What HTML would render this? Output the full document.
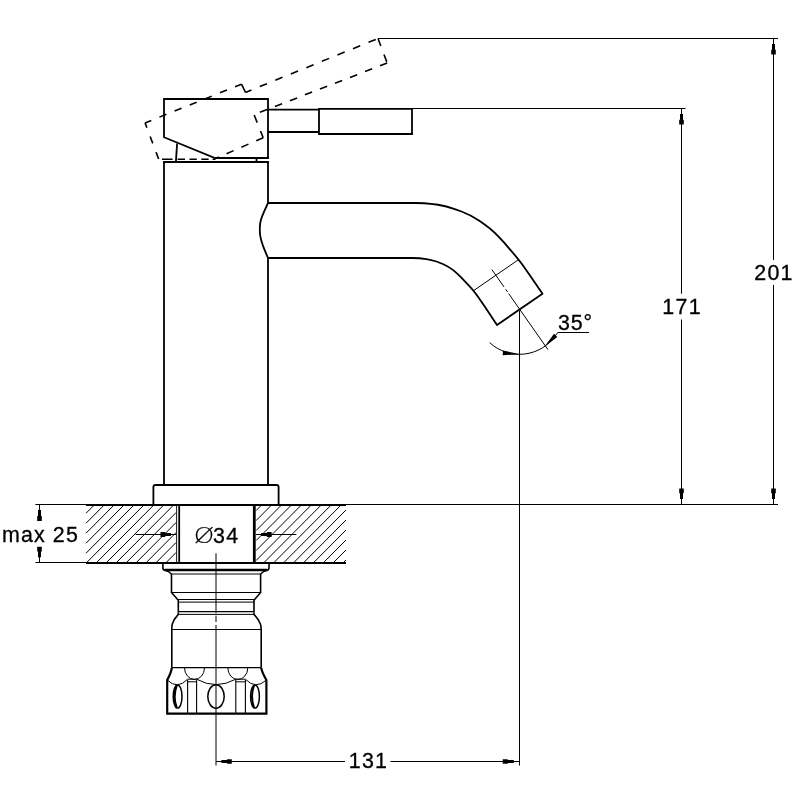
<!DOCTYPE html>
<html lang="en"><head><meta charset="utf-8"><title>Basin mixer dimensional drawing</title>
<style>
html,body{margin:0;padding:0;background:#fff;}
body{width:800px;height:800px;overflow:hidden;}
svg{display:block;will-change:transform;filter:grayscale(1);}
svg text{font-family:"Liberation Sans",sans-serif;fill:#000;}
</style></head><body>
<svg width="800" height="800" viewBox="0 0 800 800">
<rect width="800" height="800" fill="#fff"/>
<g fill="none" stroke="#000" stroke-linecap="butt" stroke-linejoin="miter">
<line x1="94.48" y1="504.75" x2="86.00" y2="513.28" stroke-width="1.0" />
<line x1="104.41" y1="504.75" x2="86.00" y2="523.27" stroke-width="1.0" />
<line x1="114.34" y1="504.75" x2="86.00" y2="533.26" stroke-width="1.0" />
<line x1="124.27" y1="504.75" x2="86.00" y2="543.25" stroke-width="1.0" />
<line x1="134.20" y1="504.75" x2="86.00" y2="553.24" stroke-width="1.0" />
<line x1="144.13" y1="504.75" x2="86.23" y2="563.00" stroke-width="1.0" />
<line x1="154.06" y1="504.75" x2="96.16" y2="563.00" stroke-width="1.0" />
<line x1="163.99" y1="504.75" x2="106.09" y2="563.00" stroke-width="1.0" />
<line x1="173.92" y1="504.75" x2="116.02" y2="563.00" stroke-width="1.0" />
<line x1="176.20" y1="512.44" x2="125.95" y2="563.00" stroke-width="1.0" />
<line x1="176.20" y1="522.43" x2="135.88" y2="563.00" stroke-width="1.0" />
<line x1="176.20" y1="532.42" x2="145.81" y2="563.00" stroke-width="1.0" />
<line x1="176.20" y1="542.41" x2="155.74" y2="563.00" stroke-width="1.0" />
<line x1="176.20" y1="552.40" x2="165.67" y2="563.00" stroke-width="1.0" />
<line x1="176.20" y1="562.39" x2="175.60" y2="563.00" stroke-width="1.0" />
<line x1="261.88" y1="504.75" x2="256.00" y2="510.66" stroke-width="1.0" />
<line x1="271.81" y1="504.75" x2="256.00" y2="520.65" stroke-width="1.0" />
<line x1="281.74" y1="504.75" x2="256.00" y2="530.64" stroke-width="1.0" />
<line x1="291.67" y1="504.75" x2="256.00" y2="540.63" stroke-width="1.0" />
<line x1="301.60" y1="504.75" x2="256.00" y2="550.62" stroke-width="1.0" />
<line x1="311.53" y1="504.75" x2="256.00" y2="560.61" stroke-width="1.0" />
<line x1="321.46" y1="504.75" x2="263.56" y2="563.00" stroke-width="1.0" />
<line x1="331.39" y1="504.75" x2="273.49" y2="563.00" stroke-width="1.0" />
<line x1="341.32" y1="504.75" x2="283.42" y2="563.00" stroke-width="1.0" />
<line x1="346.00" y1="510.03" x2="293.35" y2="563.00" stroke-width="1.0" />
<line x1="346.00" y1="520.02" x2="303.28" y2="563.00" stroke-width="1.0" />
<line x1="346.00" y1="530.01" x2="313.21" y2="563.00" stroke-width="1.0" />
<line x1="346.00" y1="540.00" x2="323.14" y2="563.00" stroke-width="1.0" />
<line x1="346.00" y1="549.99" x2="333.07" y2="563.00" stroke-width="1.0" />
<line x1="346.00" y1="559.98" x2="343.00" y2="563.00" stroke-width="1.0" />
<line x1="378.00" y1="38.50" x2="778.00" y2="38.50" stroke-width="1.0" />
<line x1="412.00" y1="108.50" x2="685.50" y2="108.50" stroke-width="1.0" />
<line x1="35.40" y1="504.50" x2="778.00" y2="504.50" stroke-width="1.0" />
<line x1="35.40" y1="562.50" x2="90.00" y2="562.50" stroke-width="1.0" />
<line x1="773.50" y1="38.50" x2="773.50" y2="260.00" stroke-width="1.0" />
<line x1="773.50" y1="285.00" x2="773.50" y2="504.50" stroke-width="1.0" />
<polygon points="774.00,38.50 774.00,43.94 775.00,43.94 775.00,49.70 775.80,49.70 775.80,54.50 771.20,54.50 771.20,49.70 772.00,49.70 772.00,43.94 773.00,43.94 773.00,38.50" fill="#000" stroke="none"/>
<polygon points="773.00,504.50 773.00,499.06 772.00,499.06 772.00,493.30 771.20,493.30 771.20,488.50 775.80,488.50 775.80,493.30 775.00,493.30 775.00,499.06 774.00,499.06 774.00,504.50" fill="#000" stroke="none"/>
<line x1="681.50" y1="108.50" x2="681.50" y2="293.75" stroke-width="1.0" />
<line x1="681.50" y1="319.50" x2="681.50" y2="504.50" stroke-width="1.0" />
<polygon points="682.00,108.50 682.00,113.94 683.00,113.94 683.00,119.70 683.80,119.70 683.80,124.50 679.20,124.50 679.20,119.70 680.00,119.70 680.00,113.94 681.00,113.94 681.00,108.50" fill="#000" stroke="none"/>
<polygon points="681.00,504.50 681.00,499.06 680.00,499.06 680.00,493.30 679.20,493.30 679.20,488.50 683.80,488.50 683.80,493.30 683.00,493.30 683.00,499.06 682.00,499.06 682.00,504.50" fill="#000" stroke="none"/>
<line x1="39.50" y1="504.50" x2="39.50" y2="521.00" stroke-width="1.0" />
<line x1="39.50" y1="547.00" x2="39.50" y2="562.50" stroke-width="1.0" />
<polygon points="40.00,504.50 40.00,510.11 41.00,510.11 41.00,516.05 41.80,516.05 41.80,521.00 37.20,521.00 37.20,516.05 38.00,516.05 38.00,510.11 39.00,510.11 39.00,504.50" fill="#000" stroke="none"/>
<polygon points="39.00,562.50 39.00,557.13 38.00,557.13 38.00,551.44 37.20,551.44 37.20,546.70 41.80,546.70 41.80,551.44 41.00,551.44 41.00,557.13 40.00,557.13 40.00,562.50" fill="#000" stroke="none"/>
<line x1="216.00" y1="761.50" x2="345.00" y2="761.50" stroke-width="1.0" />
<line x1="390.50" y1="761.50" x2="519.50" y2="761.50" stroke-width="1.0" />
<polygon points="216.00,761.00 221.37,761.00 221.37,760.00 227.06,760.00 227.06,759.20 231.80,759.20 231.80,763.80 227.06,763.80 227.06,763.00 221.37,763.00 221.37,762.00 216.00,762.00" fill="#000" stroke="none"/>
<polygon points="519.50,762.00 513.79,762.00 513.79,763.00 507.74,763.00 507.74,763.80 502.70,763.80 502.70,759.20 507.74,759.20 507.74,760.00 513.79,760.00 513.79,761.00 519.50,761.00" fill="#000" stroke="none"/>
<line x1="519.50" y1="310.50" x2="519.50" y2="765.50" stroke-width="1.0" />
<line x1="216.00" y1="553.25" x2="216.00" y2="613.25" stroke-width="1.0" />
<line x1="216.00" y1="615.50" x2="216.00" y2="622.00" stroke-width="1.0" />
<line x1="216.00" y1="625.00" x2="216.00" y2="765.50" stroke-width="1.0" />
<line x1="135.60" y1="534.50" x2="176.00" y2="534.50" stroke-width="1.0" />
<polygon points="176.30,535.00 170.93,535.00 170.93,536.00 165.24,536.00 165.24,537.00 160.50,537.00 160.50,532.00 165.24,532.00 165.24,533.00 170.93,533.00 170.93,534.00 176.30,534.00" fill="#000" stroke="none"/>
<line x1="256.00" y1="534.50" x2="296.30" y2="534.50" stroke-width="1.0" />
<polygon points="255.80,534.00 261.17,534.00 261.17,533.00 266.86,533.00 266.86,532.00 271.60,532.00 271.60,537.00 266.86,537.00 266.86,536.00 261.17,536.00 261.17,535.00 255.80,535.00" fill="#000" stroke="none"/>
<path d="M489.66,342.64 A44,44 0 0 0 555.76,335.22 L557.8,332.5 H589" stroke-width="1.0" />
<polygon points="519.50,354.30 511.92,354.74 502.66,355.14 503.06,350.55 512.11,352.55" fill="#000" stroke="none"/>
<polygon points="544.74,346.34 548.89,340.63 554.07,333.76 557.32,337.01 550.45,342.19" fill="#000" stroke="none"/>
<line x1="491.93" y1="269.67" x2="504.03" y2="286.95" stroke-width="1.0" />
<line x1="505.64" y1="289.25" x2="507.59" y2="292.03" stroke-width="1.0" />
<line x1="508.62" y1="293.51" x2="547.86" y2="349.54" stroke-width="1.0" />
<line x1="473.75" y1="290.50" x2="518.75" y2="259.50" stroke-width="1.0" />
<path d="M164,99 H268 V158 H215 L164,137.25 Z" stroke-width="1.8" />
<line x1="177.10" y1="143.50" x2="175.90" y2="162.00" stroke-width="1.8" />
<line x1="256.50" y1="158.00" x2="256.50" y2="162.00" stroke-width="1.8" />
<path d="M268,109.6 H319 M268,132 H319" stroke-width="1.8" />
<path d="M319,108.8 H412 V134 H319 Z" stroke-width="1.8" />
<path d="M268,203 V162 H164 V485" stroke-width="1.8" />
<path d="M268,258 V485" stroke-width="1.8" />
<path d="M268,203 H400 L415.50,203.00 Q425.00,203.00 432.98,204.06 L438.02,204.74 Q446.00,205.80 455.50,209.30 L461.50,211.50 Q471.00,215.00 479.74,221.08 L485.26,224.92 Q494.00,231.00 503.50,241.94 L509.50,248.86 Q519.00,259.80 523.18,265.80 L530.00,275.60 L542.5,293.75 L497,325 L485.40,307.50 L478.18,296.96 Q473.75,290.50 465.87,282.33 L460.88,277.17 Q453.00,269.00 446.73,265.96 L442.77,264.04 Q436.50,261.00 430.23,259.86 L426.27,259.14 Q420.00,258.00 412.40,258.00 L400.00,258.00 H268" stroke-width="1.8" stroke-linejoin="round"/>
<path d="M268.00,203.00 L264.64,210.29 Q261.90,216.25 260.95,219.74 L260.75,220.51 Q259.80,224.00 259.80,228.95 L259.80,230.05 Q259.80,235.00 261.01,239.50 L261.29,240.50 Q262.50,245.00 264.98,250.85 L268.00,258.00" stroke-width="1.8" stroke-linejoin="round"/>
<path d="M153.4,505 V487 Q153.4,485 155.4,485 H276.6 Q278.6,485 278.6,487 V505" stroke-width="1.8" />
<line x1="86.00" y1="505.00" x2="346.00" y2="505.00" stroke-width="1.8" />
<line x1="86.00" y1="563.00" x2="346.00" y2="563.00" stroke-width="1.8" />
<line x1="176.60" y1="505.00" x2="176.60" y2="563.00" stroke-width="0.9" />
<line x1="179.20" y1="505.00" x2="179.20" y2="563.00" stroke-width="1.8" />
<line x1="254.30" y1="505.00" x2="254.30" y2="563.00" stroke-width="2.8" />
<path d="M145.06,122.90 L158.70,159.20" stroke-width="1.6" stroke-dasharray="7.4 9.3" stroke-dashoffset="2.2"/>
<path d="M145.06,122.90 L241.50,84.20" stroke-width="1.6" stroke-dasharray="7.5 8.8" stroke-dashoffset="0.8"/>
<path d="M241.50,84.20 L245.50,92.40" stroke-width="1.6" />
<path d="M245.50,92.40 L378.00,38.50" stroke-width="1.6" stroke-dasharray="7.8 8.97" stroke-dashoffset="1.37"/>
<path d="M378.00,38.50 L387.20,63.00" stroke-width="1.6" stroke-dasharray="8 9" stroke-dashoffset="0"/>
<path d="M387.20,63.00 L254.00,114.60" stroke-width="1.6" stroke-dasharray="7.7 8.4" stroke-dashoffset="0"/>
<path d="M254.00,114.60 L263.20,137.70" stroke-width="1.6" stroke-dasharray="8.1 9" stroke-dashoffset="-0.5"/>
<path d="M263.20,137.70 L215.30,158.60" stroke-width="1.6" stroke-dasharray="7.7 8.5" stroke-dashoffset="0.1"/>
<path d="M161.9,159.2 H172.6 M177.7,159.2 H185 M189.5,159.2 H196.8 M201.3,159.2 H208.6 M212.6,159.2 H215.5" stroke-width="1.6" />
<path d="M162.9,563 V568 Q162.9,570.3 165.5,570.3 M269.0,563 V568 Q269.0,570.3 266.4,570.3" stroke-width="1.6" />
<line x1="164.40" y1="569.90" x2="267.50" y2="569.90" stroke-width="2.5" />
<path d="M165.5,570.5 Q168.5,571 171.5,574 M266.4,570.5 Q263.7,571 260.6,574" stroke-width="1.4" />
<line x1="171.50" y1="574.00" x2="260.60" y2="574.00" stroke-width="1.0" />
<path d="M171.5,574 V592.5 L178.3,600.3 V612.5 M260.6,574 V592.5 L254,600.3 V612.5" stroke-width="1.6" />
<line x1="171.50" y1="592.50" x2="260.60" y2="592.50" stroke-width="1.0" />
<line x1="177.50" y1="599.50" x2="254.80" y2="599.50" stroke-width="1.0" />
<line x1="178.30" y1="602.10" x2="254.00" y2="602.10" stroke-width="1.0" />
<line x1="178.30" y1="611.60" x2="254.00" y2="611.60" stroke-width="1.3" />
<line x1="178.30" y1="614.40" x2="254.00" y2="614.40" stroke-width="1.0" />
<path d="M178.3,612.5 V614.4 Q174,619 172.3,624 Q171.8,626 171.8,629.5 V667.6  M254,612.5 V614.4 Q258.3,619 260.4,624 Q261.2,626 261.2,629.5 V667.6" stroke-width="1.6" />
<line x1="171.80" y1="629.50" x2="261.20" y2="629.50" stroke-width="1.0" />
<line x1="171.80" y1="667.70" x2="261.20" y2="667.70" stroke-width="1.2" />
<path d="M171.8,667.6 Q171.5,672 167.2,680 V713.6 H266.4 V680 Q261.8,672 261.2,667.6" stroke-width="2.2" />
<path d="M184.5,667.7 A10,11.8 0 0 0 204.5,667.7" stroke-width="1.0" />
<path d="M227.8,667.7 A10,11.8 0 0 0 247.8,667.7" stroke-width="1.0" />
<path d="M167.2,680 Q177.3,690 187.6,679.2 M196.6,679.2 Q216,690 235.8,679.2 M245.4,679.2 Q255.6,690 266.4,680" stroke-width="1.0" />
<line x1="187.60" y1="679.20" x2="196.60" y2="679.20" stroke-width="1.0" />
<line x1="187.60" y1="681.80" x2="196.60" y2="681.80" stroke-width="1.0" />
<line x1="187.60" y1="680.00" x2="187.60" y2="713.60" stroke-width="1.1" />
<line x1="196.60" y1="680.00" x2="196.60" y2="713.60" stroke-width="1.1" />
<line x1="235.80" y1="679.20" x2="245.40" y2="679.20" stroke-width="1.0" />
<line x1="235.80" y1="681.80" x2="245.40" y2="681.80" stroke-width="1.0" />
<line x1="235.80" y1="680.00" x2="235.80" y2="713.60" stroke-width="1.1" />
<line x1="245.40" y1="680.00" x2="245.40" y2="713.60" stroke-width="1.1" />
<ellipse cx="216" cy="696.5" rx="8.2" ry="11.7" stroke-width="1.5"/>
<ellipse cx="177.6" cy="696.5" rx="4.4" ry="11.6" stroke-width="1.5"/>
<ellipse cx="255" cy="696.5" rx="4.4" ry="11.6" stroke-width="1.5"/>
<path d="M176.6,685.5 Q172.6,696.5 176.6,707.5" stroke-width="2.2" />
<path d="M254,685.5 Q250,696.5 254,707.5" stroke-width="2.0" />
</g>
<g font-size="21.4" letter-spacing="1.3" stroke="#000" stroke-width="0.3">
<text x="2" y="541.7" letter-spacing="1.2" word-spacing="-0.3">max 25</text>
<text x="193.8" y="542.5"><tspan font-family="'DejaVu Sans Light','DejaVu Sans','Liberation Sans',sans-serif" font-size="22" stroke-width="0.15" letter-spacing="0" textLength="20.6" lengthAdjust="spacingAndGlyphs">Ø</tspan><tspan dx="-1.3">34</tspan></text>
<text x="558" y="329.8" letter-spacing="0.9">35°</text>
<text x="662.3" y="314.3">171</text>
<text x="754.2" y="279.5">201</text>
<text x="348.7" y="768.3">131</text>
</g>

</svg>
</body></html>
